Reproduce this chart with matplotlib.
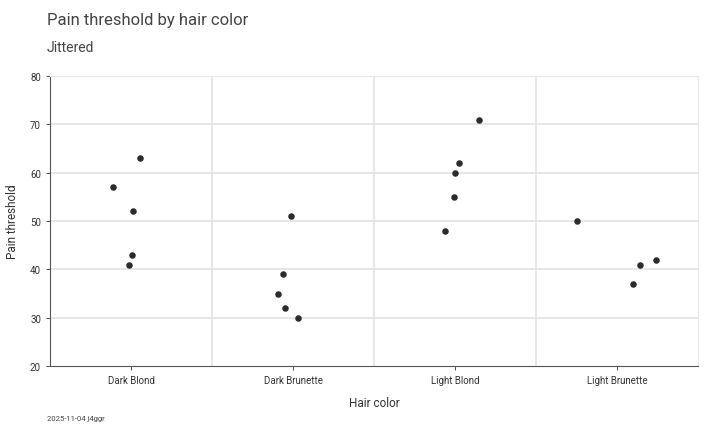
import numpy as np
import matplotlib; matplotlib.use("Agg"); import matplotlib.pyplot as plt

plt.rcParams["font.family"] = ["Roboto", "DejaVu Sans"]

categories = ["Dark Blond", "Dark Brunette", "Light Blond", "Light Brunette"]
groups = [0, 0, 0, 0, 0, 1, 1, 1, 1, 1, 2, 2, 2, 2, 2, 3, 3, 3, 3]
pain = [63, 57, 52, 43, 41, 51, 39, 35, 32, 30, 71, 62, 60, 55, 48, 50, 42, 41, 37]
jitter = [0.055, -0.11, 0.012, 0.006, -0.012, -0.012, -0.062, -0.093, -0.05, 0.03,
          0.148, 0.025, 0.0, -0.006, -0.062, -0.247, 0.24, 0.142, 0.099]

fig = plt.figure(figsize=(7.1, 4.35), dpi=100)
ax = fig.add_axes([50/710, 1-367/435, 648/710, 290/435])
ax.scatter(np.array(groups) + np.array(jitter), pain, s=22, color="#2b2b2b", zorder=3, linewidths=0)

ax.set_xlim(-0.5, 3.5); ax.set_ylim(20, 80)
ax.set_xticks(range(4)); ax.set_xticklabels(categories, fontsize=7)
ax.set_yticks(range(20, 81, 10)); ax.tick_params(axis="y", labelsize=7)
ax.tick_params(colors="#333333", length=3, width=0.6)
for b in [0.5, 1.5, 2.5]:
    ax.axvline(b, color="#e3e3e3", lw=1.2, zorder=0)
for y in range(30, 81, 10):
    ax.axhline(y, color="#e3e3e3", lw=1.2, zorder=0)
for s in ("top", "right"):
    ax.spines[s].set_color("#e8e8e8")
for s in ("left", "bottom"):
    ax.spines[s].set_color("#555555"); ax.spines[s].set_linewidth(0.8)
ax.set_xlabel("Hair color", fontsize=8.5, color="#333333", labelpad=8)
ax.set_ylabel("Pain threshold", fontsize=8.5, color="#333333", labelpad=8)

fig.text(47/710, 1-20/435, "Pain threshold by hair color", fontsize=12, color="#444444", va="center")
fig.text(47/710, 1-48/435, "Jittered", fontsize=10, color="#444444", va="center")
fig.text(47/710, 1-419/435, "2025-11-04 j4ggr", fontsize=5.5, color="#444444", va="center")

fig.savefig("out.png", dpi=100)
